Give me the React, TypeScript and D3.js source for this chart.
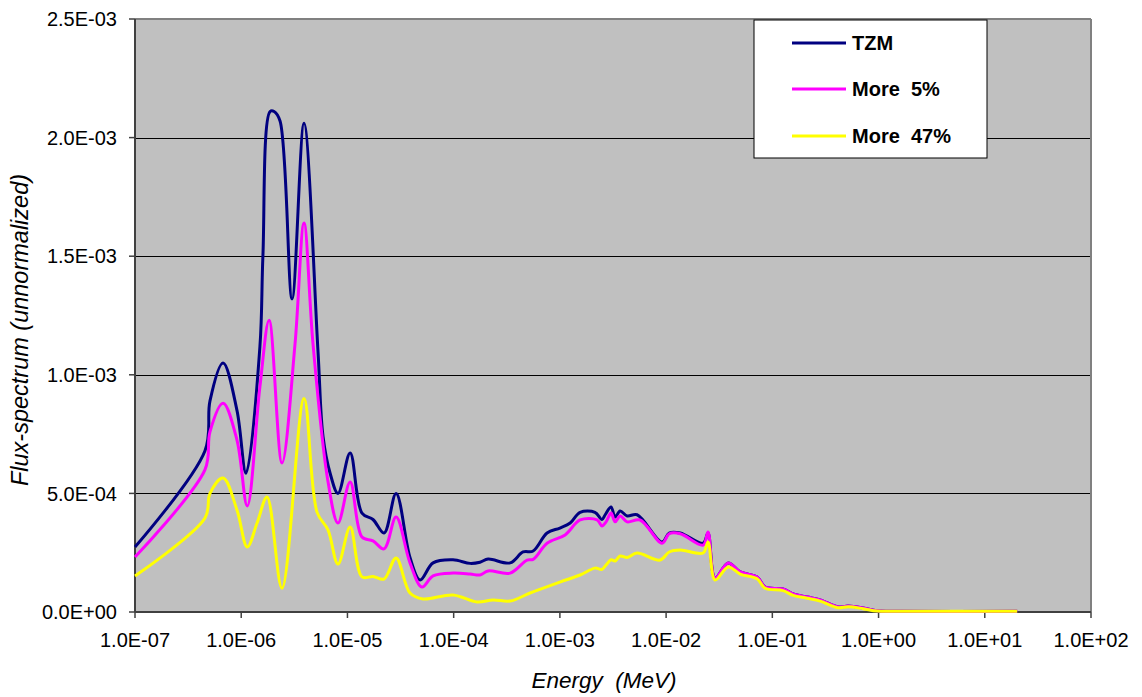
import React from "react";
import * as d3 from "d3";

// Neutron flux spectra (MeV vs. unnormalized flux) for three compositions
const energyTZM = [1.0e-7, 4.56e-7, 5.08e-7, 6.75e-7, 9.12e-7, 1.11e-6, 1.5e-6, 1.6e-6, 1.87e-6, 2.04e-6, 2.32e-6, 3.01e-6, 3.9e-6, 5.28e-6, 5.89e-6, 6.86e-6, 8.15e-6, 1.06e-5, 1.37e-5, 1.74e-5, 2.21e-5, 2.87e-5, 3.88e-5, 4.83e-5, 6.4e-5, 9.86e-5, 1.43e-4, 1.77e-4, 2.11e-4, 3.4e-4, 4.5e-4, 5.6e-4, 7.57e-4, 1.0e-3, 1.25e-3, 1.55e-3, 2.14e-3, 2.49e-3, 2.67e-3, 3.03e-3, 3.31e-3, 3.69e-3, 4.3e-3, 5.33e-3, 9.16e-3, 1.07e-2, 1.36e-2, 2.23e-2, 2.48e-2, 2.89e-2, 3.84e-2, 4.98e-2, 7.19e-2, 8.55e-2, 1.26e-1, 1.57e-1, 2.13e-1, 2.82e-1, 4.17e-1, 5.18e-1, 7.16e-1, 9.7e-1, 1.6, 20.2];
const fluxTZM = [2.74e-4, 6.8e-4, 8.9e-4, 1.05e-3, 8.5e-4, 5.85e-4, 1.12e-3, 1.5e-3, 2.11e-3, 2.11e-3, 2.07e-3, 1.32e-3, 2.06e-3, 1.1e-3, 7.4e-4, 5.86e-4, 5.0e-4, 6.7e-4, 4.17e-4, 3.9e-4, 3.33e-4, 5.0e-4, 2.3e-4, 1.35e-4, 2.07e-4, 2.2e-4, 2.05e-4, 2.1e-4, 2.23e-4, 2.07e-4, 2.53e-4, 2.57e-4, 3.33e-4, 3.54e-4, 3.75e-4, 4.2e-4, 4.2e-4, 3.9e-4, 4.1e-4, 4.43e-4, 4.0e-4, 4.26e-4, 4.05e-4, 4.1e-4, 2.95e-4, 3.33e-4, 3.33e-4, 2.9e-4, 3.33e-4, 1.43e-4, 2.07e-4, 1.69e-4, 1.48e-4, 1.05e-4, 9.7e-5, 7.6e-5, 6.3e-5, 5.1e-5, 2.1e-5, 2.5e-5, 1.7e-5, 5e-6, 3e-6, 3e-6];

const energyMore5 = [1.0e-7, 4.56e-7, 5.08e-7, 6.75e-7, 9.12e-7, 1.14e-6, 1.5e-6, 1.83e-6, 2.42e-6, 3.21e-6, 3.9e-6, 4.74e-6, 6.56e-6, 8.15e-6, 1.06e-5, 1.37e-5, 1.74e-5, 2.21e-5, 2.87e-5, 3.88e-5, 5.03e-5, 6.4e-5, 9.86e-5, 1.43e-4, 1.77e-4, 2.11e-4, 3.4e-4, 4.91e-4, 5.6e-4, 7.57e-4, 1.12e-3, 1.55e-3, 2.24e-3, 2.49e-3, 2.72e-3, 3.03e-3, 3.31e-3, 3.69e-3, 4.3e-3, 5.69e-3, 9.16e-3, 1.07e-2, 1.36e-2, 2.23e-2, 2.48e-2, 2.89e-2, 3.84e-2, 4.98e-2, 7.19e-2, 8.55e-2, 1.26e-1, 1.57e-1, 2.13e-1, 2.82e-1, 4.17e-1, 5.18e-1, 7.16e-1, 9.7e-1, 1.6, 20.2];
const fluxMore5 = [2.32e-4, 6.0e-4, 7.6e-4, 8.8e-4, 7.25e-4, 4.47e-4, 9.5e-4, 1.23e-3, 6.28e-4, 1.13e-3, 1.64e-3, 1.13e-3, 5.5e-4, 3.75e-4, 5.48e-4, 3.16e-4, 3.0e-4, 2.66e-4, 4.0e-4, 2.07e-4, 1.05e-4, 1.52e-4, 1.64e-4, 1.6e-4, 1.56e-4, 1.73e-4, 1.64e-4, 2.19e-4, 2.22e-4, 2.9e-4, 3.25e-4, 3.88e-4, 3.88e-4, 3.63e-4, 3.8e-4, 4.17e-4, 3.8e-4, 4.05e-4, 3.8e-4, 3.88e-4, 2.9e-4, 3.3e-4, 3.3e-4, 2.82e-4, 3.37e-4, 1.43e-4, 2.07e-4, 1.69e-4, 1.48e-4, 1.05e-4, 9.7e-5, 7.6e-5, 6.3e-5, 5.1e-5, 2.1e-5, 2.5e-5, 1.7e-5, 5e-6, 3e-6, 3e-6];

const energyMore47 = [1.0e-7, 4.56e-7, 5.08e-7, 6.75e-7, 9.12e-7, 1.14e-6, 1.41e-6, 1.75e-6, 2.42e-6, 3.9e-6, 5.18e-6, 6.56e-6, 8.15e-6, 1.06e-5, 1.37e-5, 1.74e-5, 2.21e-5, 2.87e-5, 3.88e-5, 5.15e-5, 9.86e-5, 1.66e-4, 2.35e-4, 3.4e-4, 5.24e-4, 1.0e-3, 1.55e-3, 2.14e-3, 2.49e-3, 2.72e-3, 3.03e-3, 3.31e-3, 3.69e-3, 4.3e-3, 5.33e-3, 8.77e-3, 1.07e-2, 1.36e-2, 2.23e-2, 2.48e-2, 2.89e-2, 3.84e-2, 4.98e-2, 7.19e-2, 8.55e-2, 1.26e-1, 1.57e-1, 2.13e-1, 2.82e-1, 4.17e-1, 5.18e-1, 7.16e-1, 9.7e-1, 1.6, 20.2];
const fluxMore47 = [1.52e-4, 3.96e-4, 5.0e-4, 5.65e-4, 4.3e-4, 2.74e-4, 3.75e-4, 4.85e-4, 1.0e-4, 9.0e-4, 4.2e-4, 3.46e-4, 2.02e-4, 3.58e-4, 1.48e-4, 1.5e-4, 1.39e-4, 2.28e-4, 8e-5, 5.5e-5, 7.2e-5, 4.2e-5, 5.1e-5, 4.6e-5, 8e-5, 1.26e-4, 1.56e-4, 1.85e-4, 1.8e-4, 1.98e-4, 2.2e-4, 2.15e-4, 2.36e-4, 2.3e-4, 2.49e-4, 2.19e-4, 2.53e-4, 2.61e-4, 2.49e-4, 2.95e-4, 1.35e-4, 1.9e-4, 1.6e-4, 1.4e-4, 1.0e-4, 9.0e-5, 7.0e-5, 5.8e-5, 4.6e-5, 1.8e-5, 2.2e-5, 1.4e-5, 4e-6, 3e-6, 3e-6];

const seriesNames = ["TZM", "More  5%", "More  47%"];
const seriesColors = ["#000080", "#FF00FF", "#FFFF00"];

const xTickValues = [1e-7, 1e-6, 1e-5, 1e-4, 1e-3, 1e-2, 1e-1, 1e0, 1e1, 1e2];
const xTickLabels = ["1.0E-07", "1.0E-06", "1.0E-05", "1.0E-04", "1.0E-03", "1.0E-02", "1.0E-01", "1.0E+00", "1.0E+01", "1.0E+02"];
const yTickValues = [0, 5e-4, 1e-3, 1.5e-3, 2e-3, 2.5e-3];
const yTickLabels = ["0.0E+00", "5.0E-04", "1.0E-03", "1.5E-03", "2.0E-03", "2.5E-03"];

const W = 1142;
const H = 697;
const left = 135;
const right = 1091;
const top = 19;
const bottom = 612;
const FONT = "'Liberation Sans', Arial, sans-serif";

export default function App() {
  const x = d3.scaleLog().domain([1e-7, 1e2]).range([left, right]);
  const y = d3.scaleLinear().domain([0, 2.5e-3]).range([bottom, top]);

  const line = d3
    .line<[number, number]>()
    .x((d) => x(d[0]))
    .y((d) => y(d[1]))
    .curve(d3.curveCatmullRom.alpha(0.5));

  const series = [
    d3.zip(energyTZM, fluxTZM) as [number, number][],
    d3.zip(energyMore5, fluxMore5) as [number, number][],
    d3.zip(energyMore47, fluxMore47) as [number, number][],
  ];

  const legendX = 754;
  const legendY = 20;
  const legendRows = [43, 89, 136];

  return (
    <svg width={W} height={H} style={{ position: "absolute", left: 0, top: 0 }} fontFamily={FONT}>
      <rect x={0} y={0} width={W} height={H} fill="#ffffff" />
      {/* plot area */}
      <rect x={left} y={top} width={right - left} height={bottom - top} fill="#C0C0C0" />
      {/* horizontal gridlines */}
      {yTickValues.slice(1, -1).map((v) => (
        <line key={v} x1={left} x2={right} y1={Math.round(y(v)) + 0.5} y2={Math.round(y(v)) + 0.5} stroke="#000" strokeWidth={1} />
      ))}
      {/* frame: top and right gray */}
      <line x1={left} x2={right} y1={top} y2={top} stroke="#808080" strokeWidth={2} />
      <line x1={right} x2={right} y1={top} y2={bottom} stroke="#808080" strokeWidth={2} />

      {/* axes */}
      <line x1={left} x2={left} y1={top} y2={bottom} stroke="#404040" strokeWidth={2} />
      <line x1={left} x2={right} y1={bottom} y2={bottom} stroke="#404040" strokeWidth={2} />
      {yTickValues.map((v, i) => (
        <g key={v}>
          <line x1={left - 6} x2={left} y1={y(v)} y2={y(v)} stroke="#404040" strokeWidth={1.5} />
          <text x={117} y={y(v)} dy="0.36em" textAnchor="end" fontSize={20} fill="#000">
            {yTickLabels[i]}
          </text>
        </g>
      ))}
      {xTickValues.map((v, i) => (
        <g key={v}>
          <line x1={x(v)} x2={x(v)} y1={bottom} y2={bottom + 6} stroke="#404040" strokeWidth={1.5} />
          <text x={x(v)} y={647} textAnchor="middle" fontSize={20} fill="#000">
            {xTickLabels[i]}
          </text>
        </g>
      ))}

      {/* series */}
      {series.map((pts, i) => (
        <path key={i} d={line(pts) || ""} fill="none" stroke={seriesColors[i]} strokeWidth={3} strokeLinejoin="round" />
      ))}

      {/* axis titles */}
      <text x={604} y={688} textAnchor="middle" fontSize={22.5} fontStyle="italic" fill="#000" style={{ whiteSpace: "pre" }}>
        {"Energy  (MeV)"}
      </text>
      <text
        transform="translate(28, 330) rotate(-90)"
        textAnchor="middle"
        fontSize={23.5}
        fontStyle="italic"
        fill="#000"
      >
        Flux-spectrum (unnormalized)
      </text>

      {/* legend */}
      <rect x={legendX} y={legendY} width={233} height={138} fill="#fff" stroke="#000" strokeWidth={1} />
      {seriesNames.map((name, i) => (
        <g key={name}>
          <line x1={792} x2={846} y1={legendRows[i]} y2={legendRows[i]} stroke={seriesColors[i]} strokeWidth={3} />
          <text x={852} y={legendRows[i]} dy="0.36em" fontSize={20} fontWeight="bold" fill="#000" style={{ whiteSpace: "pre" }}>
            {name}
          </text>
        </g>
      ))}
    </svg>
  );
}
